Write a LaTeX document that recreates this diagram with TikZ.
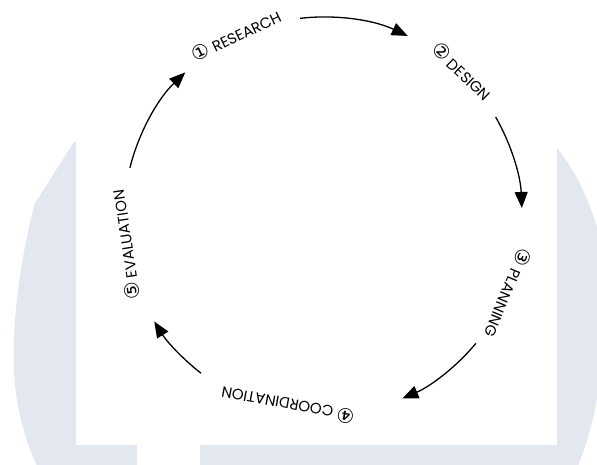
\documentclass[tikz,border=0pt]{standalone}
\usepackage{fontspec}
\setmainfont{Poppins}
\newfontfamily\numfont{DejaVu Sans}
\usetikzlibrary{arrows.meta}

\definecolor{wmgray}{RGB}{227,232,240}
\newcommand{\stepnum}[1]{{\numfont\fontsize{20}{20}\selectfont #1}}

\tikzset{
  phase/.style={font=\fontsize{15}{16}\selectfont, text=black, inner sep=1pt},
  cyclearrow/.style={line width=1.3pt, -{Triangle[length=16pt,width=13pt]}},
}

\begin{document}
\begin{tikzpicture}[x=1pt, y=1pt]
    \useasboundingbox (-323,-248) rectangle (274,216);

    % Watermark behind the cycle
    \begin{scope}[shift={(-323,216)}, yscale=-1]
        \clip (0,0) rectangle (597,464);
        \fill[wmgray] (74,142) -- (35,203) .. controls (20,260) and (12,320) .. (14,370)
            .. controls (15,405) and (25,440) .. (37,466) -- (578,466)
            .. controls (588,440) and (597,410) .. (599,380) -- (599,235)
            .. controls (590,200) and (575,170) .. (557,148) -- cycle;
        \fill[white] (76,130) rectangle (557,445);
        \fill[white] (137,445) rectangle (200,466);
    \end{scope}

    % Phases round the circle
    \node[phase, rotate=25.7] (research) at (115.7:201) {\stepnum{①} RESEARCH};
    \node[phase, rotate=-43.8] (design) at (46.2:201) {\stepnum{②} DESIGN};
    \node[phase, rotate=-112.6] (planning) at (-22.6:201) {\stepnum{③} PLANNING};
    \node[phase, rotate=169.5] (coordination) at (-100.5:193) {\stepnum{④} COORDINATION};
    \node[phase, rotate=98.4] (evaluation) at (188.4:200) {\stepnum{⑤} EVALUATION};

    % Arc ends
    \coordinate (r-out) at (96.6:199);
    \coordinate (d-out) at (29.8:199);
    \coordinate (p-out) at (-39.8:199);
    \coordinate (c-out) at (-127.8:199);
    \coordinate (e-out) at (166:199);

    % Arrows
    \draw[cyclearrow] (r-out) arc[start angle=96.6, end angle=64.8, radius=199];
    \draw[cyclearrow] (d-out) arc[start angle=29.8, end angle=2.3, radius=199];
    \draw[cyclearrow] (p-out) arc[start angle=-39.8, end angle=-66.5, radius=199];
    \draw[cyclearrow] (c-out) arc[start angle=-127.8, end angle=-148, radius=199];
    \draw[cyclearrow] (e-out) arc[start angle=166, end angle=133.8, radius=199];

\end{tikzpicture}
\end{document}
